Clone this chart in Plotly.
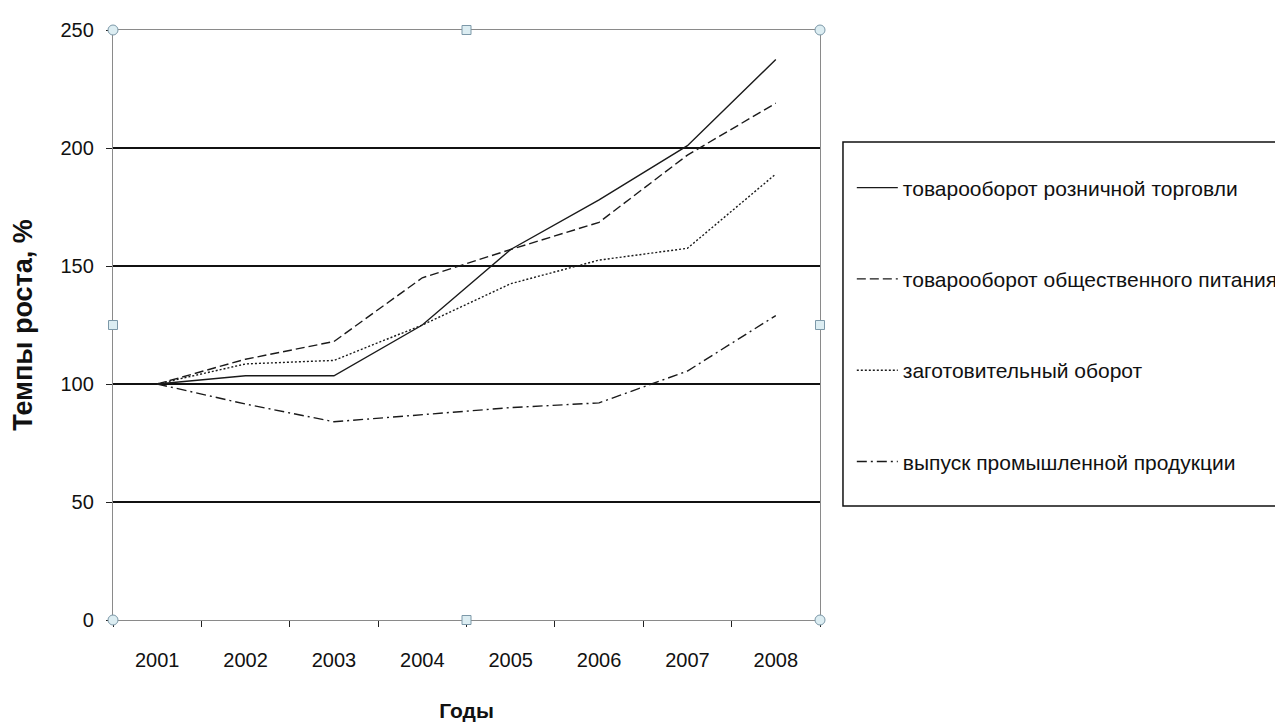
import plotly.graph_objects as go

years = ["2001", "2002", "2003", "2004", "2005", "2006", "2007", "2008"]
retail = [100, 103.5, 103.5, 125, 157, 178, 201, 237.5]
catering = [100, 110.5, 118, 145, 157, 168.5, 197, 219]
procurement = [100, 108.5, 110, 125, 142.5, 152.5, 157.5, 189]
industry = [100, 91.5, 84, 87, 90, 92, 105.5, 129]

names = [
    "товарооборот розничной торговли",
    "товарооборот общественного питания",
    "заготовительный оборот",
    "выпуск промышленной продукции",
]
series = [retail, catering, procurement, industry]
dashes = ["solid", "9px,4px", "2px,2px", "10px,4px,2px,4px"]

FONT = "Liberation Sans, Arial, sans-serif"
LINE = "#1a1a1a"

fig = go.Figure()
for i, (nm, vals, d) in enumerate(zip(names, series, dashes)):
    fig.add_trace(go.Scatter(
        x=years, y=vals, name=nm, mode="lines",
        line=dict(color=LINE, width=1.4, dash=d),
        legendgroup=f"g{i}",
    ))

shapes = []
# legend frame
shapes.append(dict(type="rect", xref="paper", yref="paper",
                   x0=1.0325, x1=1.75, y0=0.1932, y1=0.8102,
                   line=dict(color="#111", width=1.5), fillcolor="rgba(0,0,0,0)"))
# selection handles
handle_line = "#7c98a8"
handle_fill = "#dcedf2"
for (hx, hy) in [(0, 0), (1, 0), (0, 1), (1, 1)]:
    shapes.append(dict(type="circle", xref="paper", yref="paper",
                       xsizemode="pixel", ysizemode="pixel",
                       xanchor=hx, yanchor=hy, x0=-5, x1=5, y0=-5, y1=5,
                       line=dict(color=handle_line, width=1), fillcolor=handle_fill))
for (hx, hy) in [(0.5, 0), (0.5, 1), (0, 0.5), (1, 0.5)]:
    shapes.append(dict(type="rect", xref="paper", yref="paper",
                       xsizemode="pixel", ysizemode="pixel",
                       xanchor=hx, yanchor=hy, x0=-4.5, x1=4.5, y0=-4.5, y1=4.5,
                       line=dict(color=handle_line, width=1), fillcolor=handle_fill))

fig.update_layout(
    width=1275, height=724,
    margin=dict(l=113, r=455, t=30, b=104, autoexpand=False),
    paper_bgcolor="white", plot_bgcolor="white",
    font=dict(family=FONT, color="#111"),
    showlegend=True,
    legend=dict(
        x=1.045, y=0.767, xanchor="left", yanchor="top",
        bgcolor="rgba(0,0,0,0)", borderwidth=0,
        font=dict(family=FONT, size=21, color="#111"),
        tracegroupgap=61, itemwidth=41,
    ),
    xaxis=dict(
        type="category", range=[-0.5, 7.5], automargin=False,
        showline=True, linecolor="#8a8a8a", linewidth=1.3, mirror=True,
        ticks="outside", tickson="boundaries", ticklen=6, tickcolor="#222", tickwidth=1,
        showgrid=False, zeroline=False,
        tickfont=dict(family=FONT, size=20, color="#111"),
        ticklabelstandoff=22,
        title=dict(text="<b>Годы</b>", font=dict(family=FONT, size=21, color="#111"), standoff=33),
    ),
    yaxis=dict(
        range=[0, 250], tickvals=[0, 50, 100, 150, 200, 250], automargin=False,
        showline=True, linecolor="#8a8a8a", linewidth=1.3, mirror=True,
        ticks="outside", ticklen=6, tickcolor="#222", tickwidth=1,
        showgrid=True, gridcolor="#111", gridwidth=1.5, zeroline=False,
        tickfont=dict(family=FONT, size=20, color="#111"),
        ticklabelstandoff=8,
        title=dict(text="<b>Темпы роста, %</b>", font=dict(family=FONT, size=27, color="#111"), standoff=20),
    ),
    shapes=shapes,
)

fig.write_html(
    "out.html",
    config={"displayModeBar": False},
    post_script="document.body.style.margin='0px';document.body.style.overflow='hidden';",
)
